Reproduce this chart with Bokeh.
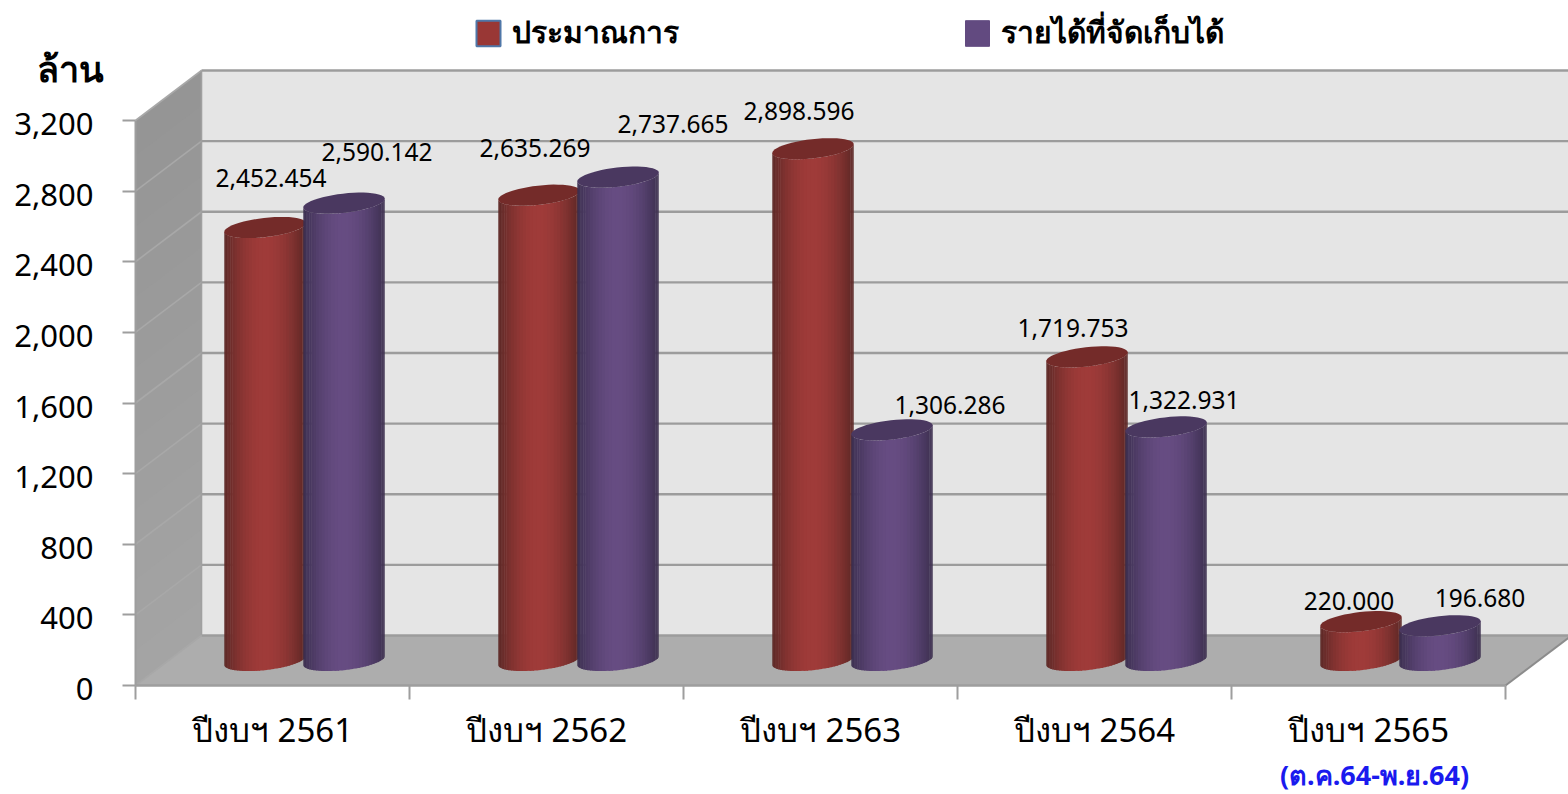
import math
from bokeh.plotting import figure
from bokeh.embed import file_html
from bokeh.resources import INLINE
from bokeh.core.properties import value
from bokeh.models import (Range1d, LinearAxis, FixedTicker, NumeralTickFormatter,
                          Legend, LegendItem)

# ---------- data ----------
categories = ["ปีงบฯ 2561", "ปีงบฯ 2562", "ปีงบฯ 2563", "ปีงบฯ 2564", "ปีงบฯ 2565"]
budget = [2452.454, 2635.269, 2898.596, 1719.753, 220.000]
revenue = [2590.142, 2737.665, 1306.286, 1322.931, 196.680]
budget_labels = ["2,452.454", "2,635.269", "2,898.596", "1,719.753", "220.000"]
revenue_labels = ["2,590.142", "2,737.665", "1,306.286", "1,322.931", "196.680"]
y_ticks = [0, 400, 800, 1200, 1600, 2000, 2400, 2800, 3200]
series_names = ["ประมาณการ", "รายได้ที่จัดเก็บได้"]
unit_label = "ล้าน"
period_note = "(ต.ค.64-พ.ย.64)"

# ---------- layout / style (pixels of the picture) ----------
W, H = 1568, 794
PX = 1 / 274.0            # one pixel in category units
PY = 3200 / 565.0         # one pixel in value units
DX, DY = 66 * PX, 50 * PY  # depth of the 3D box
FONT = "Noto Sans"
RED = ((0x58, 0x26, 0x24), (0x9F, 0x3B, 0x39), "#742B29")
PURPLE = ((0x39, 0x2D, 0x4C), (0x66, 0x4C, 0x82), "#4A3860")
# offsets of the value labels from the top of their cylinder, in pixels
budget_off = [(6, 49), (-4, 47), (-14, 38), (-14, 29), (-12, 21)]
revenue_off = [(33, 51), (55, 53), (58, 25), (18, 27), (40, 28)]

y0_view, y1_view = (685 - H) * PY, 685 * PY
p = figure(width=W, height=H, output_backend="svg", toolbar_location=None,
           x_range=Range1d(-135 * PX, (W - 135) * PX),
           y_range=Range1d(y0_view, y1_view),
           x_axis_location=None, y_axis_location=None,
           min_border=0, min_border_left=0, min_border_right=0,
           min_border_top=0, min_border_bottom=0, outline_line_color=None)
p.grid.visible = False
p.background_fill_color = None
p.border_fill_color = None
# same scale, nudged so that the tick labels sit slightly under their ticks
p.extra_y_ranges = {"labels": Range1d(y0_view + 3.5 * PY, y1_view + 3.5 * PY)}

top = y_ticks[-1]
right = (W - 135) * PX

# back wall, floor, left wall
p.patch([DX, right, right, DX], [DY, DY, top + DY, top + DY], fill_color="#E5E5E5", line_color=None)
p.patch([0, DX, right, 5 + DX, 5], [0, DY, DY, DY, 0], fill_color="#ADADAD", line_color=None)
n = 16
wx, wy, wc = [], [], []
for k in range(n):
    a, b = k / n, (k + 1) / n
    wx.append([0, DX, DX, 0])
    wy.append([a * top, a * top + DY, min(b * top + 4 * PY, top) + DY, min(b * top + 4 * PY, top)])
    g = int(0xA5 - (0xA5 - 0x95) * (a + b) / 2)
    wc.append("#%02x%02x%02x" % (g, g, g))
p.patches(wx, wy, fill_color=wc, line_color=None)

# grid lines on the walls
p.multi_line([[DX, right] for _ in y_ticks], [[v + DY, v + DY] for v in y_ticks],
             line_color="#9C9C9C", line_width=2.4)
p.multi_line([[0, DX] for _ in y_ticks], [[v, v + DY] for v in y_ticks],
             line_color="#A8A8A8", line_width=1.6)
p.line([DX, DX], [DY, top + DY], line_color="#A0A0A0", line_width=1.6)
p.line([5, 5 + DX], [0, DY], line_color="#8C8C8C", line_width=2)


# cylinders
def mix(c0, c1, s):
    return "#%02x%02x%02x" % tuple(int(round(a + (b - a) * s)) for a, b in zip(c0, c1))


A, B = 41.0, 9.6
TILT = math.radians(6.5)
STRIPS = 36


def ell(t):
    ex, ey = A * math.cos(t), B * math.sin(t)
    return (ex * math.cos(TILT) - ey * math.sin(TILT),
            ex * math.sin(TILT) + ey * math.cos(TILT))


xs, ys, cs = [], [], []


def cylinder(cx, val, pal):
    base = DY / 2
    tip = val + base
    for k in range(STRIPS):
        t0 = math.pi + math.pi * k / STRIPS
        t1 = math.pi + math.pi * (k + 1.25) / STRIPS
        x0, y0 = ell(t0)
        x1, y1 = ell(min(t1, 2 * math.pi))
        f = (x0 + x1) / 2 / (2 * A) + 0.5
        s = max(0.0, math.sin(math.pi * f)) ** 0.85
        xs.append([cx + x0 * PX, cx + x1 * PX, cx + x1 * PX, cx + x0 * PX])
        ys.append([base + y0 * PY, base + y1 * PY, tip + y1 * PY, tip + y0 * PY])
        cs.append(mix(pal[0], pal[1], s))
    cap = [ell(2 * math.pi * k / 48) for k in range(48)]
    xs.append([cx + c[0] * PX for c in cap])
    ys.append([tip + c[1] * PY for c in cap])
    cs.append(pal[2])


lab_x, lab_y, lab_t = [], [], []
for i in range(len(categories)):
    mid = i + 0.5 + DX / 2 - 1 * PX
    c0 = mid - 39.5 * PX
    c1 = mid + 39.5 * PX
    cylinder(c0, budget[i], RED)
    cylinder(c1, revenue[i], PURPLE)
    lab_x += [c0 + budget_off[i][0] * PX, c1 + revenue_off[i][0] * PX]
    lab_y += [budget[i] + DY / 2 + budget_off[i][1] * PY, revenue[i] + DY / 2 + revenue_off[i][1] * PY]
    lab_t += [budget_labels[i], revenue_labels[i]]

p.patches(xs, ys, fill_color=cs, line_color=None)

# value labels
p.text(lab_x, lab_y, text=lab_t, text_font=value(FONT), text_font_size="24.5px",
       text_color="#000000", text_align="center", text_baseline="middle")

# axes
yax = LinearAxis(fixed_location=0, ticker=FixedTicker(ticks=y_ticks), bounds=(0, top),
                 axis_line_color="#9E9E9E", axis_line_width=2,
                 major_tick_line_color="#9E9E9E", major_tick_line_width=2,
                 major_tick_out=13, major_tick_in=0, minor_tick_line_color=None,
                 major_label_text_color=None, major_label_text_font_size="1px")
p.add_layout(yax, "left")
ylab = LinearAxis(fixed_location=0, y_range_name="labels", ticker=FixedTicker(ticks=y_ticks),
                  formatter=NumeralTickFormatter(format="0,0"),
                  axis_line_color=None, major_tick_line_color=None, minor_tick_line_color=None,
                  major_tick_out=13, major_tick_in=0,
                  major_label_text_font=FONT, major_label_text_font_size="31px",
                  major_label_text_color="#000000", major_label_standoff=29)
p.add_layout(ylab, "left")

edges = list(range(len(categories) + 1))
xax = LinearAxis(fixed_location=0, ticker=FixedTicker(ticks=edges), bounds=(0, edges[-1]),
                 axis_line_color="#9E9E9E", axis_line_width=2.4,
                 major_tick_line_color="#9E9E9E", major_tick_line_width=2,
                 major_tick_out=14, major_tick_in=0, minor_tick_line_color=None,
                 major_label_text_color=None, major_label_text_font_size="1px")
p.add_layout(xax, "below")

centres = [i + 0.5 for i in range(len(categories))]
cax = LinearAxis(fixed_location=0, ticker=FixedTicker(ticks=centres),
                 major_label_overrides={c: t for c, t in zip(centres, categories)},
                 axis_line_color=None, major_tick_line_color=None, minor_tick_line_color=None,
                 major_label_text_font=FONT, major_label_text_font_size="33px",
                 major_label_text_color="#000000", major_label_standoff=15)
p.add_layout(cax, "below")

# unit and period notes
p.text([-65 * PX], [(685 - 68) * PY], text=[unit_label], text_font=value(FONT),
       text_font_size="36px", text_font_style="bold", text_align="center", text_baseline="middle",
       text_color="#000000")
p.text([4.5 + 6 * PX], [(685 - 774) * PY], text=[period_note], text_font=value(FONT),
       text_font_size="27px", text_font_style="bold", text_align="center", text_baseline="middle",
       text_color="#1A1AEE")

# legend (its glyphs come from renderers with no drawable points)
NA = float("nan")
r0 = p.quad(left=[NA], right=[NA], top=[NA], bottom=[NA], fill_color="#993735",
            line_color="#4F77A8", line_width=2)
r1 = p.quad(left=[NA], right=[NA], top=[NA], bottom=[NA], fill_color="#624A80",
            line_color="#624A80", line_width=1)
legend = Legend(items=[LegendItem(label=series_names[0], renderers=[r0]),
                       LegendItem(label=series_names[1], renderers=[r1])],
                orientation="horizontal", location=(473, 738), margin=0, padding=0,
                spacing=283, glyph_width=30, glyph_height=32, label_standoff=9,
                background_fill_alpha=0, border_line_color=None,
                label_text_font=FONT, label_text_font_size="30px", label_text_font_style="bold",
                label_text_color="#000000")
p.add_layout(legend, "center")

open("out.html", "w").write(file_html(p, INLINE))
